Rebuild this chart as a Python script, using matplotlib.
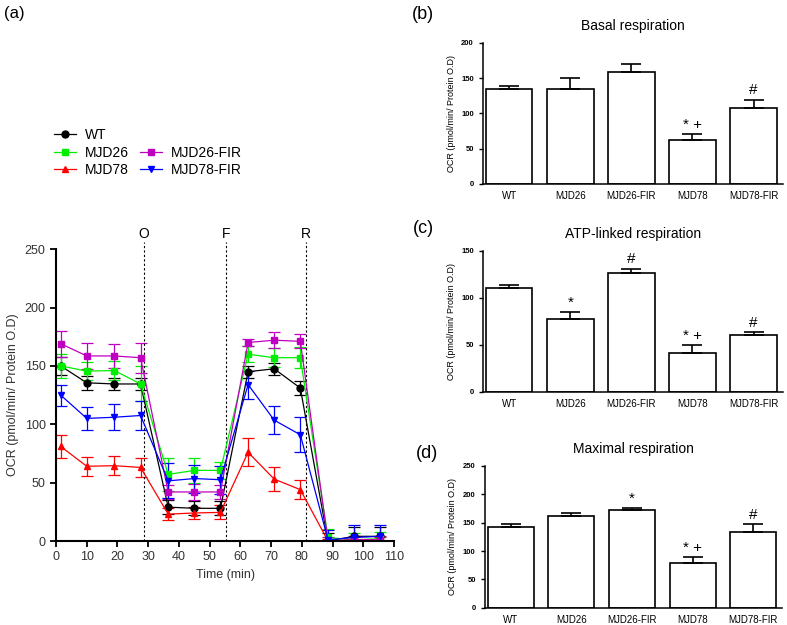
import numpy as np
import matplotlib
matplotlib.use("Agg")
import matplotlib.pyplot as plt
from matplotlib.lines import Line2D

plt.rcParams["font.family"] = ["Liberation Sans", "DejaVu Sans"]

# (a) OCR time course
time = [1.5, 10, 19, 27.5, 36.5, 45, 53.5, 62.5, 71, 79.5, 88.5, 97, 105.5]
wt = [150, 135.5, 134.5, 134.5, 29, 28, 28, 145, 147.5, 131, 0, 4, 4]
wt_err = [8, 6, 5, 5, 6, 6, 6, 5, 5, 6, 7, 8, 8]
mjd26 = [150, 145.5, 146, 134.5, 57, 60.5, 60.5, 160, 157, 157, 3, 1, 2]
mjd26_err = [10, 8, 8, 15, 14, 11, 7, 7, 8, 9, 7, 6, 6]
mjd78 = [81, 64, 64.5, 63, 23, 24, 24.5, 76, 53, 44, 0, 1, 1]
mjd78_err = [10, 8, 8, 8, 5, 5, 6, 12, 10, 8, 2, 2, 2]
mjd26fir = [169, 158.5, 158.5, 157, 42, 42, 42, 170, 172, 171, 0, 1, 1]
mjd26fir_err = [11, 11, 10, 13, 6, 7, 6, 3, 7, 6, 3, 3, 3]
mjd78fir = [125, 105, 106, 107.5, 51.5, 53.5, 52.5, 134, 103.5, 91, 1, 3, 4]
mjd78fir_err = [9, 10, 11, 12, 15, 12, 12, 12, 12, 15, 8, 11, 10]
injections = [("O", 28.7), ("F", 55.3), ("R", 81.2)]

# (b)-(d) bar summaries
groups = ["WT", "MJD26", "MJD26-FIR", "MJD78", "MJD78-FIR"]
basal = [134, 134, 158.5, 62.7, 107.5]
basal_err = [5, 16, 12, 8.5, 12]
basal_sig = ["", "", "", "* +", "#"]
atp = [110.5, 77, 126, 41.5, 59.8]
atp_err = [2.5, 8, 5, 8.5, 3.7]
atp_sig = ["", "*", "#", "* +", "#"]
maximal = [142.5, 161, 172, 78, 134]
maximal_err = [5.5, 6, 4.5, 11, 13]
maximal_sig = ["", "", "*", "* +", "#"]

fig = plt.figure(figsize=(7.87, 6.25), dpi=100)

# ---- panel (a)
ax = fig.add_axes([0.0712, 0.1344, 0.4295, 0.467])
series = [
    ("WT", wt, wt_err, "black", "o"),
    ("MJD26", mjd26, mjd26_err, "#00ee00", "s"),
    ("MJD78", mjd78, mjd78_err, "#ff0000", "^"),
    ("MJD26-FIR", mjd26fir, mjd26fir_err, "#c000c0", "s"),
    ("MJD78-FIR", mjd78fir, mjd78fir_err, "#0000ff", "v"),
]
handles = {}
for name, y, e, c, m in series:
    ax.errorbar(time, y, yerr=e, color=c, marker=m, ms=5, lw=0.9,
                capsize=4, elinewidth=0.9, capthick=0.9)
    handles[name] = Line2D([], [], color=c, marker=m, ms=5, lw=0.9)
for lab, xv in injections:
    ax.plot([xv, xv], [0, 256], color="black", ls=(0, (2, 2)), lw=0.8, clip_on=False)
    ax.text(xv, 257, lab, ha="center", va="bottom", fontsize=10)
ax.set_xlim(0, 110)
ax.set_ylim(0, 250)
ax.set_xticks(range(0, 111, 10))
ax.set_yticks(range(0, 251, 50))
ax.tick_params(labelsize=9, labelcolor="#333333", direction="out", length=4, width=1.3)
for s in ("top", "right"):
    ax.spines[s].set_visible(False)
for s in ("left", "bottom"):
    ax.spines[s].set_linewidth(1.5)
ax.set_xlabel("Time (min)", fontsize=9, color="#333333")
ax.set_ylabel("OCR (pmol/min/ Protein O.D)", fontsize=9, color="#333333")

blank = Line2D([], [], color="none")
leg_h = [handles["WT"], handles["MJD26"], handles["MJD78"], blank,
         handles["MJD26-FIR"], handles["MJD78-FIR"]]
leg_l = ["WT", "MJD26", "MJD78", "", "MJD26-FIR", "MJD78-FIR"]
fig.legend(leg_h, leg_l, ncol=2, loc="upper left", bbox_to_anchor=(0.053, 0.815),
           frameon=False, fontsize=10, handlelength=1.6, handletextpad=0.6,
           columnspacing=0.8, labelspacing=0.25)
fig.text(0.005, 0.99, "(a)", fontsize=12, va="top")


def bar_panel(rect, vals, errs, sigs, title, ymax, step, label, label_xy):
    bx = fig.add_axes(rect)
    x = np.arange(len(groups))
    bx.bar(x, vals, width=0.76, color="white", edgecolor="black", lw=1.2,
           yerr=[np.zeros(len(errs)), errs], capsize=7,
           error_kw=dict(elinewidth=1.2, capthick=1.2))
    for xi, v, e, s in zip(x, vals, errs, sigs):
        if s:
            bx.text(xi, v + e + ymax * 0.015, s, ha="center", va="bottom", fontsize=11)
    bx.set_xlim(-0.43, 4.48)
    bx.set_ylim(0, ymax)
    bx.set_yticks(np.arange(0, ymax + 1, step))
    bx.set_xticks(x)
    bx.set_xticklabels(groups, fontsize=7)
    bx.tick_params(axis="x", length=0, pad=5)
    bx.tick_params(axis="y", labelsize=5.5, length=3, width=1)
    for t in bx.get_yticklabels():
        t.set_fontweight("bold")
    for s in ("top", "right"):
        bx.spines[s].set_visible(False)
    for s in ("left", "bottom"):
        bx.spines[s].set_linewidth(1.1)
    bx.set_ylabel("OCR (pmol/min/ Protein O.D)", fontsize=6.5)
    bx.set_title(title, fontsize=10, pad=9)
    fig.text(label_xy[0], label_xy[1], label, fontsize=13, va="top")
    return bx


bar_panel([0.6137, 0.7056, 0.381, 0.226], basal, basal_err, basal_sig,
          "Basal respiration", 200, 50, "(b)", (0.523, 0.99))
bar_panel([0.6137, 0.3733, 0.381, 0.2256], atp, atp_err, atp_sig,
          "ATP-linked respiration", 150, 50, "(c)", (0.525, 0.648))
bar_panel([0.616, 0.0277, 0.378, 0.2267], maximal, maximal_err, maximal_sig,
          "Maximal respiration", 250, 50, "(d)", (0.528, 0.288))

fig.savefig("out.png", dpi=100)
